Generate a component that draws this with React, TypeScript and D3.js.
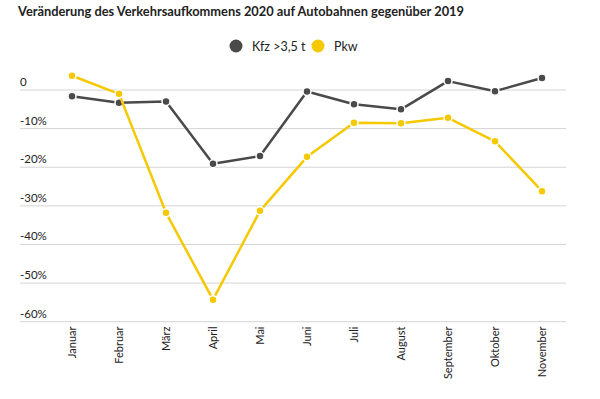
import React, { useEffect, useRef } from "react";
import * as d3 from "d3";

const months = [
  "Januar", "Februar", "März", "April", "Mai", "Juni",
  "Juli", "August", "September", "Oktober", "November",
];
const kfzValues = [-1.6, -3.3, -3.0, -19.1, -17.1, -0.4, -3.7, -5.0, 2.3, -0.3, 3.1];
const pkwValues = [3.7, -1.0, -31.8, -54.3, -31.3, -17.3, -8.5, -8.6, -7.2, -13.3, -26.2];
const yTicks = [0, -10, -20, -30, -40, -50, -60];
const seriesNames = ["Kfz >3,5 t", "Pkw"];
const colors = ["#4a4a4a", "#f6c800"];

const W = 600;
const H = 399;
const FONT = "Lato, 'Open Sans', sans-serif";

export default function App() {
  const ref = useRef<SVGSVGElement>(null);

  useEffect(() => {
    document.body.style.margin = "0";
    const svg = d3.select(ref.current);
    svg.selectAll("*").remove();

    const left = 20;
    const right = 566;

    const x = d3
      .scalePoint<string>()
      .domain(months)
      .range([72, 542]);

    const y = d3
      .scaleLinear()
      .domain([0, -60])
      .range([90, 321.7]);

    // title
    svg
      .append("text")
      .attr("x", 18)
      .attr("y", 15.5)
      .attr("font-family", FONT)
      .attr("font-weight", "bold")
      .attr("font-size", 14)
      .attr("fill", "#222")
      .attr("textLength", 446)
      .attr("lengthAdjust", "spacingAndGlyphs")
      .text("Veränderung des Verkehrsaufkommens 2020 auf Autobahnen gegenüber 2019");

    // legend
    const legend = svg.append("g").attr("font-family", FONT).attr("font-size", 12.5);
    const legendX = [236, 318];
    seriesNames.forEach((name, i) => {
      legend
        .append("circle")
        .attr("cx", legendX[i])
        .attr("cy", 46)
        .attr("r", 6.5)
        .attr("fill", colors[i]);
      legend
        .append("text")
        .attr("x", legendX[i] + 16)
        .attr("y", 50.5)
        .attr("fill", "#222")
        .text(name);
    });

    // grid + y labels
    const grid = svg.append("g");
    yTicks.forEach((t) => {
      grid
        .append("line")
        .attr("x1", left)
        .attr("x2", right)
        .attr("y1", y(t))
        .attr("y2", y(t))
        .attr("stroke", "#d4d4d4")
        .attr("stroke-width", 1);
      grid
        .append("text")
        .attr("x", left)
        .attr("y", y(t) - 4)
        .attr("font-family", FONT)
        .attr("font-size", 11.5)
        .attr("fill", "#222")
        .text(t === 0 ? "0" : t + "%");
    });

    // x labels
    svg
      .append("g")
      .selectAll("text")
      .data(months)
      .join("text")
      .attr("transform", (d) => "translate(" + (x(d)! + 4) + ",326.5) rotate(-90)")
      .attr("text-anchor", "end")
      .attr("font-family", FONT)
      .attr("font-size", 11)
      .attr("fill", "#222")
      .text((d) => d);

    // lines
    const line = d3
      .line<number>()
      .x((d, i) => x(months[i])!)
      .y((d) => y(d));

    [kfzValues, pkwValues].forEach((vals, s) => {
      svg
        .append("path")
        .datum(vals)
        .attr("fill", "none")
        .attr("stroke", colors[s])
        .attr("stroke-width", 2.5)
        .attr("stroke-linejoin", "round")
        .attr("d", line);
      svg
        .append("g")
        .selectAll("circle")
        .data(vals)
        .join("circle")
        .attr("cx", (d, i) => x(months[i])!)
        .attr("cy", (d) => y(d))
        .attr("r", 4)
        .attr("fill", colors[s])
        .attr("stroke", "#fff")
        .attr("stroke-width", 1.5);
    });
  }, []);

  return <svg ref={ref} width={W} height={H} style={{ display: "block", background: "#fff" }} />;
}
